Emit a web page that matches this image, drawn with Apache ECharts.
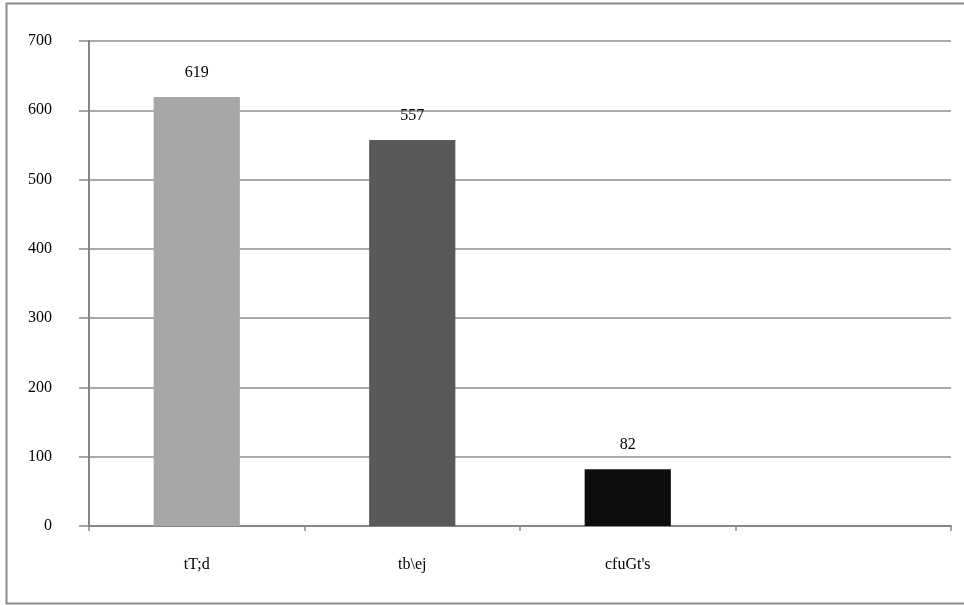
<!DOCTYPE html>
<html>
<head>
<meta charset="utf-8">
<script src="https://cdn.jsdelivr.net/npm/echarts@6/dist/echarts.min.js"></script>
<style>html,body{margin:0;padding:0;background:#fff;}#c{width:964px;height:605px;}</style>
</head>
<body>
<div id="c"></div>
<script>
const categories = ['tT;d', 'tb\\ej', "cfuGt's", ''];
const values = [619, 557, 82, null];
const barColors = ['#a6a6a6', '#595959', '#0d0d0d', '#000000'];
const yTicks = [0, 100, 200, 300, 400, 500, 600, 700];

const chart = echarts.init(document.getElementById('c'));
const font = '"Liberation Serif", "DejaVu Serif", serif';
chart.setOption({
  animation: false,
  backgroundColor: '#fff',
  graphic: [{
    type: 'rect', left: 4, top: 1,
    shape: { width: 990, height: 600 },
    style: { fill: 'none', stroke: '#8a8a8a', lineWidth: 2 }
  }],
  grid: { left: 89, right: 13, top: 41, bottom: 79 },
  xAxis: {
    type: 'category',
    data: categories,
    boundaryGap: true,
    axisLine: { lineStyle: { color: '#868686', width: 2 } },
    axisTick: { show: true, length: 5, inside: false, alignWithLabel: false, lineStyle: { color: '#868686', width: 1.5 } },
    axisLabel: { color: '#000', fontFamily: font, fontSize: 16, margin: 31 }
  },
  yAxis: {
    type: 'value',
    min: yTicks[0], max: yTicks[yTicks.length - 1], interval: 100,
    axisLine: { show: true, lineStyle: { color: '#868686', width: 2 } },
    axisTick: { show: true, length: 10, lineStyle: { color: '#868686', width: 1.5 } },
    splitLine: { lineStyle: { color: '#8c8c8c', width: 1.5 } },
    axisLabel: { color: '#000', fontFamily: font, fontSize: 16, margin: 37 }
  },
  series: [{
    type: 'bar',
    barWidth: '40%',
    data: values.map((v, i) => ({ value: v, itemStyle: { color: barColors[i] } })),
    label: { show: true, position: 'top', distance: 16, color: '#000', fontFamily: font, fontSize: 16 }
  }]
});
</script>
</body>
</html>
